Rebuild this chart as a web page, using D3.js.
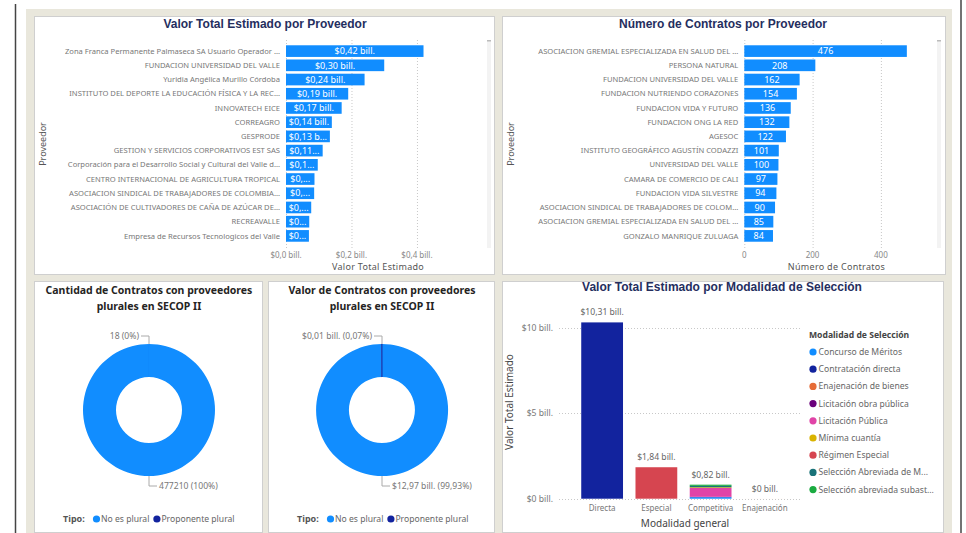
<!DOCTYPE html>
<html><head><meta charset="utf-8">
<script src="https://cdn.jsdelivr.net/npm/d3@7"></script>
<style>
html,body{margin:0;padding:0;background:#fff;}
svg{display:block;}
text{font-family:"Noto Sans","Open Sans",sans-serif;}
</style></head>
<body>
<svg id="c" width="966" height="533"></svg>
<script>
// ---------- DATA ----------
const provCats = ["Zona Franca Permanente Palmaseca SA Usuario Operador ...","FUNDACION UNIVERSIDAD DEL VALLE","Yuridia Angélica Murillo Córdoba","INSTITUTO DEL DEPORTE LA EDUCACIÓN FÍSICA Y LA REC...","INNOVATECH EICE","CORREAGRO","GESPRODE","GESTION Y SERVICIOS CORPORATIVOS EST SAS","Corporación para el Desarrollo Social y Cultural del Valle d...","CENTRO INTERNACIONAL DE AGRICULTURA TROPICAL","ASOCIACION SINDICAL DE TRABAJADORES DE COLOMBIA...","ASOCIACIÓN DE CULTIVADORES DE CAÑA DE AZÚCAR DE...","RECREAVALLE","Empresa de Recursos Tecnologicos del Valle"];
const provVals = [0.42,0.30,0.24,0.19,0.17,0.14,0.134,0.112,0.097,0.087,0.086,0.077,0.071,0.070];
const provTicks = [0,0.2,0.4];

const contCats = ["ASOCIACION GREMIAL ESPECIALIZADA EN SALUD DEL ...","PERSONA NATURAL","FUNDACION UNIVERSIDAD DEL VALLE","FUNDACION NUTRIENDO CORAZONES","FUNDACION VIDA Y FUTURO","FUNDACION ONG LA RED","AGESOC","INSTITUTO GEOGRÁFICO AGUSTÍN CODAZZI","UNIVERSIDAD DEL VALLE","CAMARA DE COMERCIO DE CALI","FUNDACION VIDA SILVESTRE","ASOCIACION SINDICAL DE TRABAJADORES DE COLOM...","ASOCIACION GREMIAL ESPECIALIZADA EN SALUD DEL ...","GONZALO MANRIQUE ZULUAGA"];
const contVals = [476,208,162,154,136,132,122,101,100,97,94,90,85,84];
const contTicks = [0,200,400];

const tipoCats = ["No es plural","Proponente plural"];
const cantidadVals = [477210,18];
const valorVals = [12.97,0.0091];

const modCats = ["Directa","Especial","Competitiva","Enajenación"];
const modSeries = ["Concurso de Méritos","Contratación directa","Enajenación de bienes","Licitación obra pública","Licitación Pública","Mínima cuantía","Régimen Especial","Selección Abreviada de M...","Selección abreviada subast..."];
const concursoVals     = [0,0,0.09,0];
const contratacionVals = [10.31,0,0,0];
const enajenacionVals  = [0,0,0,0.001];
const licObraVals      = [0,0,0.02,0];
const licPublicaVals   = [0,0,0.52,0];
const minimaVals       = [0,0,0.04,0];
const regimenVals      = [0,1.84,0,0];
const selAbrevMVals    = [0,0,0.08,0];
const selSubastaVals   = [0,0,0.07,0];
const modTicks = [0,5,10];

// ---------- STYLE ----------
const BLUE="#118DFF", NAVY="#12239E";
const seriesColors=["#118DFF","#12239E","#E66C37","#6B007B","#E044A7","#D9B300","#D64550","#197278","#1AAB40"];
const TITLE="#252E5E";

const svg=d3.select("#c");
const comma=s=>s.replace(".",",");

// page frame
svg.append("rect").attr("x",26).attr("y",9).attr("width",926).attr("height",530).attr("fill","#E9E7DC");
svg.append("line").attr("x1",15.5).attr("x2",15.5).attr("y1",4).attr("y2",533).attr("stroke","#444").attr("stroke-width",1.5);
svg.append("line").attr("x1",961).attr("x2",961).attr("y1",0).attr("y2",533).attr("stroke","#444").attr("stroke-width",1.5);

function panel(x,y,w,h){
  svg.append("rect").attr("x",x+0.5).attr("y",y+0.5).attr("width",w).attr("height",h)
    .attr("fill","#fff").attr("stroke","#cfcfcf");
}
panel(34,16,460,258);
panel(502,16,443,258);
panel(34,281,228,251);
panel(268,281,226,251);
panel(502,281,441,251);

function fitText(sel,maxW){
  sel.each(function(){
    const t=d3.select(this); let s=t.text();
    if(this.getComputedTextLength()<=maxW) return;
    while(s.length>1){ s=s.slice(0,-1).trimEnd(); t.text(s+"..."); if(this.getComputedTextLength()<=maxW) return; }
  });
}

// ---------- horizontal bar charts ----------
function hbar(opt){
  const g=svg.append("g");
  g.append("text").attr("x",opt.titleX).attr("y",28).attr("text-anchor","middle")
    .style("font-family","'Liberation Sans',Arial,sans-serif").style("font-weight","bold").style("font-size","12px")
    .attr("fill",TITLE).text(opt.title);
  const idx=d3.range(opt.cats.length);
  const x=d3.scaleLinear().domain([0,opt.max]).range([opt.x0,opt.x1]);
  const y=d3.scaleBand().domain(idx).range([44,243]).paddingInner(0.18).paddingOuter(0.09);
  // grid
  g.selectAll("line.grid").data(opt.ticks).join("line")
    .attr("x1",d=>x(d)+0.5).attr("x2",d=>x(d)+0.5).attr("y1",40).attr("y2",248)
    .attr("stroke","#c8c8c8").attr("stroke-dasharray","1,2");
  // tick labels
  g.selectAll("text.tick").data(opt.ticks).join("text")
    .attr("x",d=>x(d)).attr("y",258).attr("text-anchor","middle")
    .style("font-size","8px").attr("fill","#888").text(opt.tickFmt);
  g.append("text").attr("x",(opt.x0+opt.x1)/2).attr("y",270).attr("text-anchor","middle")
    .style("font-size","9px").attr("fill","#555").style("letter-spacing","0.3px").text(opt.axisTitle);
  g.append("text").attr("transform",`translate(${opt.yTitleX},144) rotate(-90)`).attr("text-anchor","middle")
    .style("font-size","9px").attr("fill","#555").text("Proveedor");
  // category labels
  g.selectAll("text.cat").data(idx).join("text")
    .attr("x",opt.x0-6).attr("y",i=>y(i)+y.bandwidth()/2).attr("dy","0.35em").attr("text-anchor","end")
    .style("font-size","7.6px").attr("fill","#777").text(i=>opt.cats[i]);
  // bars
  g.selectAll("rect.bar").data(opt.vals).join("rect")
    .attr("x",opt.x0).attr("y",(d,i)=>y(i)).attr("width",d=>x(d)-opt.x0).attr("height",y.bandwidth())
    .attr("fill",BLUE);
  const lab=g.selectAll("text.val").data(opt.vals).join("text")
    .attr("x",d=>(opt.x0+x(d))/2).attr("y",(d,i)=>y(i)+y.bandwidth()/2).attr("dy","0.36em")
    .attr("text-anchor","middle").style("font-size","9px").attr("fill","#fff").text(opt.valFmt);
  lab.each(function(d){ fitText(d3.select(this),x(d)-opt.x0-4); });
  // scrollbar
  g.append("rect").attr("x",opt.sb).attr("y",40).attr("width",4).attr("height",208).attr("fill","#f3f3f3");
  g.append("rect").attr("x",opt.sb).attr("y",40).attr("width",4).attr("height",1.5).attr("fill","#bbb");
}
hbar({title:"Valor Total Estimado por Proveedor",titleX:265,cats:provCats,vals:provVals,ticks:provTicks,max:0.562,x0:286,x1:470,
  tickFmt:d=>"$"+comma(d3.format(".1f")(d))+" bill.",valFmt:d=>"$"+comma(d3.format(".2f")(d))+" bill.",
  axisTitle:"Valor Total Estimado",yTitleX:46,sb:487});
hbar({title:"Número de Contratos por Proveedor",titleX:723,cats:contCats,vals:contVals,ticks:contTicks,max:540,x0:744.3,x1:928.7,
  tickFmt:d=>d,valFmt:d=>d,axisTitle:"Número de Contratos",yTitleX:514,sb:937});

// ---------- donuts ----------
function donut(opt){
  const g=svg.append("g");
  opt.title.forEach((t,i)=>g.append("text").attr("x",opt.cx).attr("y",294+i*16).attr("text-anchor","middle")
    .style("font-size","10.5px").style("font-weight","bold").attr("fill","#252423").text(t));
  const total=d3.sum(opt.vals);
  const pie=d3.pie().sort(null).value(d=>d)(opt.vals);
  const arc=d3.arc().innerRadius(33).outerRadius(66);
  const dg=g.append("g").attr("transform",`translate(${opt.cx},${opt.cy})`);
  dg.selectAll("path").data(pie).join("path").attr("d",arc).attr("fill",(d,i)=>[BLUE,NAVY][i])
    .attr("stroke",(d,i)=>(i==1 && d.value/total>0.0005)?NAVY:"none").attr("stroke-width",0.6);
  // leader lines
  const lc="#aaa";
  g.append("path").attr("d",`M${opt.cx},${opt.cy-66} V${opt.cy-74} H${opt.cx-8}`).attr("fill","none").attr("stroke",lc);
  g.append("path").attr("d",`M${opt.cx},${opt.cy+66} V${opt.cy+76} H${opt.cx+8}`).attr("fill","none").attr("stroke",lc);
  g.append("text").attr("x",opt.cx-10).attr("y",opt.cy-74).attr("dy","0.35em").attr("text-anchor","end")
    .style("font-size","8.6px").attr("fill","#777").text(opt.lab(opt.vals[1],opt.vals[1]/total));
  g.append("text").attr("x",opt.cx+10).attr("y",opt.cy+76).attr("dy","0.35em").attr("text-anchor","start")
    .style("font-size","8.6px").attr("fill","#777").text(opt.lab(opt.vals[0],opt.vals[0]/total));
  // legend
  const ly=519;
  g.append("text").attr("x",opt.lx).attr("y",ly).attr("dy","0.35em").style("font-size","9px").style("font-weight","bold")
    .attr("fill","#555").text("Tipo:");
  let xx=opt.lx+30;
  tipoCats.forEach((c,i)=>{
    g.append("circle").attr("cx",xx+3.5).attr("cy",ly).attr("r",3.6).attr("fill",[BLUE,NAVY][i]);
    const t=g.append("text").attr("x",xx+8).attr("y",ly).attr("dy","0.35em").style("font-size","8.6px").attr("fill","#666").text(c);
    xx+=8+t.node().getComputedTextLength()+4;
  });
}
donut({title:["Cantidad de Contratos con proveedores","plurales en SECOP II"],cx:149,cy:410,vals:cantidadVals,lx:63,
  lab:(v,p)=>v+" ("+Math.round(p*100)+"%)"});
donut({title:["Valor de Contratos con proveedores","plurales en SECOP II"],cx:382,cy:410,vals:valorVals,lx:297,
  lab:(v,p)=>"$"+comma(d3.format(".2f")(v))+" bill. ("+comma(d3.format(".2f")(p*100))+"%)"});

// ---------- stacked column ----------
(function(){
  const g=svg.append("g");
  g.append("text").attr("x",722).attr("y",291).attr("text-anchor","middle")
    .style("font-family","'Liberation Sans',Arial,sans-serif").style("font-weight","bold").style("font-size","12px")
    .attr("fill",TITLE).text("Valor Total Estimado por Modalidad de Selección");
  const seriesVals=[concursoVals,contratacionVals,enajenacionVals,licObraVals,licPublicaVals,minimaVals,regimenVals,selAbrevMVals,selSubastaVals];
  const rows=modCats.map((c,j)=>{const r={cat:c}; modSeries.forEach((s,k)=>r[s]=seriesVals[k][j]); return r;});
  const stack=d3.stack().keys(modSeries)(rows);
  const x=d3.scaleBand().domain(modCats).range([575,792]).paddingInner(0.23).paddingOuter(0.115);
  const y=d3.scaleLinear().domain([0,12]).range([498.7,293.5]);
  g.selectAll("line.grid").data(modTicks).join("line")
    .attr("x1",559).attr("x2",800).attr("y1",d=>Math.round(y(d))+0.5).attr("y2",d=>Math.round(y(d))+0.5)
    .attr("stroke","#c8c8c8").attr("stroke-dasharray","1,2");
  g.selectAll("text.tk").data(modTicks).join("text").attr("x",553).attr("y",d=>y(d)).attr("dy","0.35em")
    .attr("text-anchor","end").style("font-size","8.6px").attr("fill","#777").text(d=>"$"+d+" bill.");
  g.append("text").attr("transform","translate(513,402) rotate(-90)").attr("text-anchor","middle")
    .style("font-size","10px").attr("fill","#444").text("Valor Total Estimado");
  stack.forEach((s,k)=>{
    g.selectAll(null).data(s).join("rect")
      .attr("x",d=>x(d.data.cat)).attr("width",x.bandwidth())
      .attr("y",d=>y(d[1])).attr("height",d=>Math.max(0,y(d[0])-y(d[1])))
      .attr("fill",seriesColors[k]);
  });
  const totals=rows.map(r=>d3.sum(modSeries,s=>r[s]));
  g.selectAll("text.tot").data(totals).join("text")
    .attr("x",(d,i)=>x(modCats[i])+x.bandwidth()/2).attr("y",d=>y(d)-7).attr("text-anchor","middle")
    .style("font-size","8.6px").attr("fill","#666")
    .text(d=>"$"+(d<0.005?"0":comma(d3.format(".2f")(d)))+" bill.");
  g.selectAll("text.cat").data(modCats).join("text")
    .attr("x",d=>x(d)+x.bandwidth()/2).attr("y",508).attr("dy","0.35em").attr("text-anchor","middle")
    .style("font-size","8px").attr("fill","#777").text(d=>d);
  g.append("text").attr("x",685).attr("y",523).attr("dy","0.35em").attr("text-anchor","middle")
    .style("font-size","10px").attr("fill","#444").text("Modalidad general");
  // legend
  g.append("text").attr("x",809).attr("y",335).attr("dy","0.35em").style("font-size","8.6px").style("font-weight","bold")
    .attr("fill","#444").text("Modalidad de Selección");
  modSeries.forEach((s,k)=>{
    const yy=352+k*17.2;
    g.append("circle").attr("cx",813).attr("cy",yy).attr("r",3.6).attr("fill",seriesColors[k]);
    g.append("text").attr("x",818.5).attr("y",yy).attr("dy","0.35em").style("font-size","8.6px").attr("fill","#666").text(s);
  });
})();
</script>
</body></html>
